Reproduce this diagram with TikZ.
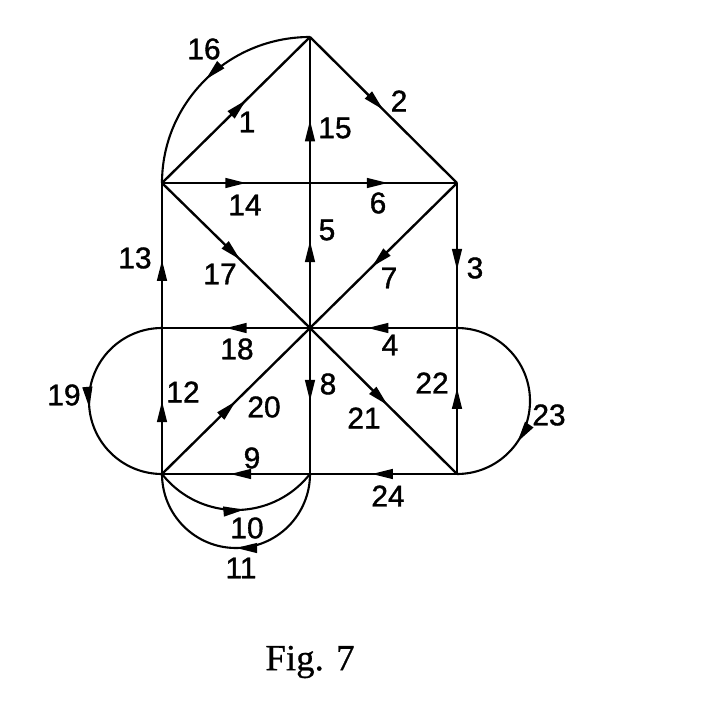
\documentclass[tikz,border=0pt]{standalone}
\usepackage{fontspec}
\setmainfont{Liberation Sans}
\newfontfamily\lblfont[FakeBold=1.2]{Liberation Sans}
\newfontfamily\capfont[FakeBold=0.6]{Liberation Serif}
\usetikzlibrary{arrows.meta,decorations.markings}
\tikzset{
  edge/.style={line width=1.35pt},
  arcedge/.style={line width=1.2pt},
  mid/.style={postaction={decorate,decoration={markings,
      mark=at position #1 with {\arrow{Triangle[length=12pt,width=5.5pt]}}}}},
  lbl/.style={font=\lblfont\fontsize{17}{17}\selectfont, inner sep=0pt},
}
\begin{document}
\begin{tikzpicture}[x=0.02cm,y=-0.02cm]
\fill[white] (0,0) rectangle (704,722);
\useasboundingbox (0,0) rectangle (704,722);
% vertices
\coordinate (T)  at (310,37);
\coordinate (UL) at (162,183);
\coordinate (UM) at (310,183);
\coordinate (UR) at (457,183);
\coordinate (ML) at (162,328);
\coordinate (C)  at (310,328);
\coordinate (MR) at (457,328);
\coordinate (BL) at (162,474);
\coordinate (BM) at (310,474);
\coordinate (BR) at (457,474);
% edges
\draw[edge,mid=0.57] (UL) -- (T);   % 1
\draw[edge,mid=0.5]  (T) -- (UR);   % 2
\draw[edge,mid=0.6]  (UR) -- (MR);  % 3
\draw[edge,mid=0.61] (MR) -- (C);   % 4
\draw[edge,mid=0.6]  (C) -- (UM);   % 5
\draw[edge,mid=0.53] (UM) -- (UR);  % 6
\draw[edge,mid=0.58] (UR) -- (C);   % 7
\draw[edge,mid=0.5]  (C) -- (BM);   % 8
\draw[edge,mid=0.54] (BM) -- (BL);  % 9
\draw[arcedge,mid=0.55] (BL) arc[start angle=141.9,end angle=38.1,radius=94]; % 10
\draw[arcedge,mid=0.5] (BM) arc[start angle=0,end angle=180,radius=74];      % 11
\draw[edge,mid=0.5]  (BL) -- (ML);  % 12
\draw[edge,mid=0.47] (ML) -- (UL);  % 13
\draw[edge,mid=0.57] (UL) -- (UM);  % 14
\draw[edge,mid=0.43] (UM) -- (T);   % 15
\draw[arcedge,mid=0.5] (T) arc[start angle=-90,end angle=-180,x radius=148,y radius=146]; % 16
\draw[edge,mid=0.53] (UL) -- (C);   % 17
\draw[edge,mid=0.57] (C) -- (ML);   % 18
\draw[arcedge,mid=0.53] (ML) arc[start angle=-90,end angle=-270,radius=73]; % 19
\draw[edge,mid=0.5]  (BL) -- (C);   % 20
\draw[edge,mid=0.53] (C) -- (BR);   % 21
\draw[edge,mid=0.59] (BR) -- (MR);  % 22
\draw[arcedge,mid=0.69] (MR) arc[start angle=-90,end angle=90,radius=73];   % 23
\draw[edge,mid=0.58] (BR) -- (BM);  % 24
% labels
\node[lbl] (l1)  at (247,122) {1};
\node[lbl] (l2)  at (399,101) {2};
\node[lbl] (l3)  at (475,268) {3};
\node[lbl] (l4)  at (390,345) {4};
\node[lbl] (l5)  at (327,230) {5};
\node[lbl] (l6)  at (378,203) {6};
\node[lbl] (l7)  at (389,278) {7};
\node[lbl] (l8)  at (328,384) {8};
\node[lbl] (l9)  at (252,458) {9};
\node[lbl] (l10) at (247,528) {10};
\node[lbl] (l11) at (241,568) {11};
\node[lbl] (l12) at (183,392) {12};
\node[lbl] (l13) at (135,258) {13};
\node[lbl] (l14) at (245,205) {14};
\node[lbl] (l15) at (335,128) {15};
\node[lbl] (l16) at (204,49)  {16};
\node[lbl] (l17) at (220,274) {17};
\node[lbl] (l18) at (237,349) {18};
\node[lbl] (l19) at (64,395)  {19};
\node[lbl] (l20) at (264,407) {20};
\node[lbl] (l21) at (364,418) {21};
\node[lbl] (l22) at (432,383) {22};
\node[lbl] (l23) at (549,415) {23};
\node[lbl] (l24) at (388,496) {24};
\node[inner sep=0pt,font=\capfont\fontsize{21}{21}\selectfont] (cap) at (310,662) {Fig. 7};
\end{tikzpicture}
\end{document}
